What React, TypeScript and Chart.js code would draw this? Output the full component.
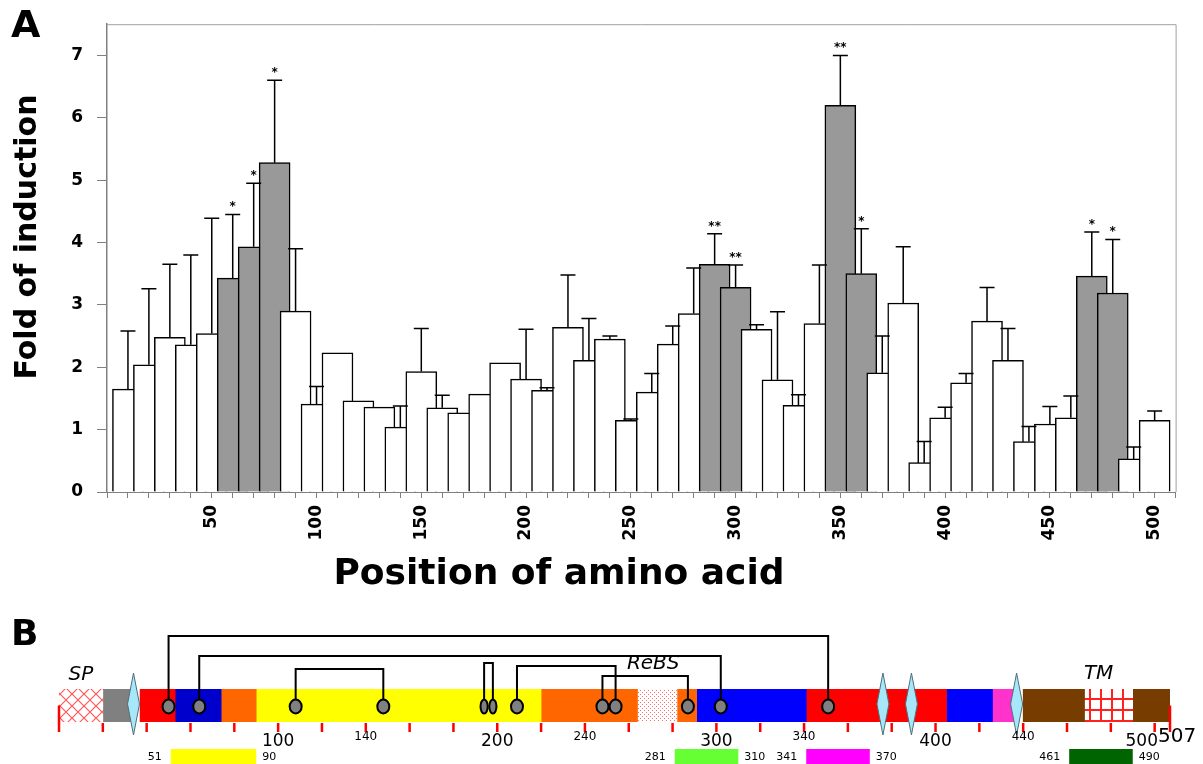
import React, { useEffect, useRef } from 'react';
import { Chart, registerables } from 'chart.js';

Chart.register(...registerables);

// ---------------- Panel A data ----------------
const positions = [10, 20, 30, 40, 50, 60, 70, 80, 90, 100, 110, 120, 130, 140, 150, 160, 170, 180, 190, 200,
  210, 220, 230, 240, 250, 260, 270, 280, 290, 300, 310, 320, 330, 340, 350, 360, 370, 380, 390, 400,
  410, 420, 430, 440, 450, 460, 470, 480, 490, 500];
const foldValues = [1.65, 2.04, 2.48, 2.36, 2.54, 3.43, 3.93, 5.28, 2.90, 1.41, 2.23, 1.46, 1.36, 1.04, 1.93, 1.35, 1.27, 1.57, 2.07, 1.81,
  1.63, 2.64, 2.11, 2.45, 1.15, 1.60, 2.37, 2.86, 3.65, 3.28, 2.61, 1.80, 1.39, 2.70, 6.20, 3.50, 1.91, 3.03, 0.47, 1.19,
  1.75, 2.74, 2.11, 0.81, 1.09, 1.19, 3.46, 3.19, 0.53, 1.15];
const foldErrors = [0.93, 1.22, 1.17, 1.44, 1.85, 1.02, 1.02, 1.32, 1.00, 0.28, 0, 0, 0, 0.34, 0.69, 0.20, 0, 0, 0, 0.80,
  0.04, 0.84, 0.67, 0.05, 0.02, 0.30, 0.29, 0.73, 0.49, 0.36, 0.07, 1.09, 0.17, 0.94, 0.80, 0.72, 0.59, 0.90, 0.34, 0.17,
  0.15, 0.54, 0.51, 0.24, 0.28, 0.35, 0.71, 0.86, 0.19, 0.15];
const significance = ['', '', '', '', '', '*', '*', '*', '', '', '', '', '', '', '', '', '', '', '', '',
  '', '', '', '', '', '', '', '', '**', '**', '', '', '', '', '**', '*', '', '', '', '',
  '', '', '', '', '', '', '*', '*', '', ''];
const xTickLabels = [50, 100, 150, 200, 250, 300, 350, 400, 450, 500];
const yTickLabels = [0, 1, 2, 3, 4, 5, 6, 7];

// ---------------- Panel B data ----------------
const domainStarts = [0, 20, 37, 53, 74, 90, 220, 264, 282, 291, 341, 405, 426, 440, 468, 490];
const domainEnds = [20, 33, 53, 74, 90, 220, 264, 282, 291, 341, 405, 426, 437, 468, 490, 507];
const domainFills = ['cross', '#808080', '#ff0000', '#0000cc', '#ff6600', '#ffff00', '#ff6600', 'dots', '#ff6600',
  '#0000ff', '#ff0000', '#0000ff', '#ff33cc', '#773c00', 'grid', '#773c00'];
const cysteines = [50, 64, 108, 148, 194, 198, 209, 248, 254, 287, 302, 351];
const bondFrom = [50, 64, 108, 194, 209, 248];
const bondTo = [351, 302, 148, 198, 254, 287];
const glycoSites = [34, 376, 389, 437];
const rulerTicks = [0, 20, 40, 60, 80, 100, 120, 140, 160, 180, 200, 220, 240, 260, 280, 300, 320, 340, 360, 380,
  400, 420, 440, 460, 480, 500, 507];
const rulerMajorLabels = [100, 200, 300, 400];
const rulerMinorLabels = [140, 240, 340, 440];
const proteinLength = 507;
const peptideStarts = [51, 281, 341, 461];
const peptideEnds = [90, 310, 370, 490];
const peptideColors = ['#ffff00', '#66ff33', '#ff00ff', '#006400'];

// ---------------- styles ----------------
const FONT = "'DejaVu Sans', Verdana, sans-serif";
const W = 1203;
const HA = 610;
const HB = 154;
const bracketHeights = [53, 33, 20, 26, 23, 13];

function makePattern(kind: string): CanvasPattern | string {
  const c = document.createElement('canvas');
  const g = c.getContext('2d');
  if (!g) return '#ffffff';
  if (kind === 'cross') {
    c.width = 12; c.height = 12;
    g.fillStyle = '#ffffff'; g.fillRect(0, 0, 12, 12);
    g.strokeStyle = '#ff5a5a'; g.lineWidth = 1.2;
    g.beginPath(); g.moveTo(-1, -1); g.lineTo(13, 13); g.moveTo(13, -1); g.lineTo(-1, 13); g.stroke();
  } else if (kind === 'dots') {
    c.width = 4; c.height = 4;
    g.fillStyle = '#ffffff'; g.fillRect(0, 0, 4, 4);
    g.fillStyle = '#ff6a6a'; g.fillRect(0, 0, 1, 1); g.fillRect(2, 2, 1, 1);
  } else if (kind === 'grid') {
    c.width = 11; c.height = 11;
    g.fillStyle = '#ffffff'; g.fillRect(0, 0, 11, 11);
    g.fillStyle = '#ff2020'; g.fillRect(0, 0, 2, 11); g.fillRect(0, 0, 11, 2);
  } else {
    return kind;
  }
  const p = g.createPattern(c, 'repeat');
  return p || '#ffffff';
}

const panelAPlugin = {
  id: 'panelAExtras',
  afterDatasetsDraw(chart: any) {
    const { ctx } = chart;
    const x = chart.scales.x;
    const y = chart.scales.y;
    ctx.save();
    ctx.strokeStyle = '#000';
    ctx.lineWidth = 1.5;
    ctx.fillStyle = '#000';
    positions.forEach((p, i) => {
      const err = foldErrors[i];
      const px = x.getPixelForValue(p);
      const yTop = y.getPixelForValue(foldValues[i] + err);
      if (err > 0) {
        const yBar = y.getPixelForValue(foldValues[i]);
        ctx.beginPath();
        ctx.moveTo(px, yBar);
        ctx.lineTo(px, yTop);
        ctx.moveTo(px - 7.5, yTop);
        ctx.lineTo(px + 7.5, yTop);
        ctx.stroke();
      }
      if (significance[i]) {
        ctx.font = `bold 12px ${FONT}`;
        ctx.textAlign = 'center';
        ctx.textBaseline = 'alphabetic';
        ctx.fillText(significance[i], px, yTop - 4);
      }
    });
    ctx.restore();
  },
  afterDraw(chart: any) {
    const { ctx, chartArea: ca } = chart;
    ctx.save();
    // plot frame (top and right)
    ctx.strokeStyle = '#a0a0a0';
    ctx.lineWidth = 1;
    ctx.beginPath();
    ctx.moveTo(ca.left, ca.top + 0.5);
    ctx.lineTo(ca.right + 0.5, ca.top + 0.5);
    ctx.lineTo(ca.right + 0.5, ca.bottom);
    ctx.stroke();
    // titles
    ctx.fillStyle = '#000';
    ctx.font = `bold 36px ${FONT}`;
    ctx.textAlign = 'center';
    ctx.textBaseline = 'middle';
    ctx.fillText('Position of amino acid', 559, 575);
    ctx.save();
    ctx.translate(28, 237);
    ctx.rotate(-Math.PI / 2);
    ctx.font = `bold 30px ${FONT}`;
    ctx.fillText('Fold of induction', 0, 0);
    ctx.restore();
    ctx.font = `bold 38px ${FONT}`;
    ctx.textAlign = 'left';
    ctx.textBaseline = 'alphabetic';
    ctx.fillText('A', 11, 37);
    ctx.restore();
  },
};

const panelBPlugin = {
  id: 'panelBExtras',
  afterDatasetsDraw(chart: any) {
    const { ctx, chartArea: ca } = chart;
    const x = chart.scales.x;
    const X = (v: number) => x.getPixelForValue(v);
    const top = ca.top;
    const bot = ca.bottom;
    const mid = (top + bot) / 2;
    ctx.save();

    // glycosylation diamonds
    glycoSites.forEach((s) => {
      const cx = X(s);
      const cy = mid - 1.5;
      ctx.beginPath();
      ctx.moveTo(cx, cy - 31);
      ctx.lineTo(cx + 6, cy);
      ctx.lineTo(cx, cy + 31);
      ctx.lineTo(cx - 6, cy);
      ctx.closePath();
      ctx.fillStyle = '#a6e8fa';
      ctx.fill();
      ctx.strokeStyle = '#4f6f78';
      ctx.lineWidth = 1;
      ctx.stroke();
    });

    // disulfide connectors
    const ovalY = mid + 1;
    const ry = 7;
    ctx.strokeStyle = '#000';
    ctx.lineWidth = 2;
    bondFrom.forEach((a, i) => {
      const b = bondTo[i];
      const ly = top - bracketHeights[i];
      ctx.beginPath();
      ctx.moveTo(X(a), ovalY - ry);
      ctx.lineTo(X(a), ly);
      ctx.lineTo(X(b), ly);
      ctx.lineTo(X(b), ovalY - ry);
      ctx.stroke();
    });

    // cysteine ovals
    cysteines.forEach((c) => {
      const close = cysteines.some((o) => o !== c && Math.abs(o - c) < 6);
      const rx = close ? 3.6 : 6;
      ctx.beginPath();
      ctx.ellipse(X(c), ovalY, rx, ry, 0, 0, Math.PI * 2);
      ctx.fillStyle = '#808080';
      ctx.fill();
      ctx.lineWidth = 2;
      ctx.strokeStyle = '#000';
      ctx.stroke();
    });

    // ruler ticks
    ctx.strokeStyle = '#ff0000';
    ctx.lineWidth = 2.5;
    rulerTicks.forEach((t) => {
      const px = X(t);
      const tall = t === 0 || t === proteinLength;
      ctx.beginPath();
      ctx.moveTo(px, tall ? mid : bot + 1);
      ctx.lineTo(px, bot + 10);
      ctx.stroke();
    });

    // ruler labels
    ctx.fillStyle = '#000';
    ctx.textBaseline = 'middle';
    ctx.textAlign = 'center';
    ctx.font = `17px ${FONT}`;
    rulerMajorLabels.forEach((t) => ctx.fillText(String(t), X(t), bot + 20));
    ctx.font = `12px ${FONT}`;
    rulerMinorLabels.forEach((t) => ctx.fillText(String(t), X(t), bot + 15));
    const endX = X(proteinLength) - 12;
    ctx.font = `17px ${FONT}`;
    ctx.textAlign = 'right';
    ctx.fillText('500', endX, bot + 20);
    ctx.font = `20px ${FONT}`;
    ctx.textAlign = 'left';
    ctx.fillText(String(proteinLength), endX, bot + 15);

    // peptide bars
    const pTop = bot + 27;
    peptideStarts.forEach((s, i) => {
      const x0 = X(s);
      const x1 = X(peptideEnds[i]);
      ctx.fillStyle = peptideColors[i];
      ctx.fillRect(x0, pTop, x1 - x0, 16);
      ctx.fillStyle = '#000';
      ctx.font = `11px ${FONT}`;
      ctx.textAlign = 'right';
      ctx.fillText(String(s), x0 - 9, pTop + 8);
      ctx.textAlign = 'left';
      ctx.fillText(String(peptideEnds[i]), x1 + 6, pTop + 8);
    });

    // domain names
    ctx.fillStyle = '#000';
    ctx.font = `italic 20px ${FONT}`;
    ctx.textAlign = 'center';
    ctx.fillText('SP', X((domainStarts[0] + domainEnds[0]) / 2), top - 14);
    ctx.fillText('ReBS', X((domainStarts[7] + domainEnds[7]) / 2) - 4, top - 25);
    ctx.fillText('TM', X((domainStarts[14] + domainEnds[14]) / 2) - 10, top - 15);

    // panel letter
    ctx.font = `bold 36px ${FONT}`;
    ctx.textAlign = 'left';
    ctx.textBaseline = 'alphabetic';
    ctx.fillText('B', 11, 35);
    ctx.restore();
  },
};

export default function App() {
  const refA = useRef<HTMLCanvasElement>(null);
  const refB = useRef<HTMLCanvasElement>(null);

  useEffect(() => {
    if (!refA.current || !refB.current) return;
    const chartA = new Chart(refA.current, {
      type: 'bar',
      data: {
        datasets: [
          {
            data: positions.map((p, i) => ({ x: p, y: foldValues[i] })),
            backgroundColor: positions.map((_, i) => (significance[i] ? '#999999' : '#ffffff')),
            borderColor: '#000000',
            borderWidth: 1.5,
            borderSkipped: 'start',
            barThickness: 31,
          } as any,
        ],
      },
      options: {
        animation: false,
        responsive: false,
        events: [],
        layout: { padding: { left: 0, right: 26, top: 19, bottom: 0 } },
        plugins: { legend: { display: false }, tooltip: { enabled: false } },
        scales: {
          x: {
            type: 'linear',
            min: 0,
            max: 510,
            offset: false,
            afterFit: (s: any) => { s.height = HA - 492; },
            grid: { offset: false, drawOnChartArea: false, drawTicks: true, tickLength: 6, color: '#808080' },
            border: { display: true, color: '#808080', width: 1 },
            ticks: {
              stepSize: 10,
              autoSkip: false,
              minRotation: 90,
              maxRotation: 90,
              padding: 7,
              color: '#000',
              font: { family: FONT, size: 17, weight: 'bold' },
              callback: (v: any) => (xTickLabels.includes(Number(v)) ? String(v) : ''),
            },
          } as any,
          y: {
            min: 0,
            max: 7.5,
            afterFit: (s: any) => { s.width = 107; },
            grid: { drawOnChartArea: false, drawTicks: true, tickLength: 10, color: '#808080' },
            border: { display: true, color: '#808080', width: 1.5 },
            ticks: {
              stepSize: 1,
              includeBounds: false,
              padding: 14,
              color: '#000',
              font: { family: FONT, size: 17, weight: 'bold' },
              callback: (v: any) => (yTickLabels.includes(Number(v)) ? String(v) : ''),
            },
          } as any,
        },
      },
      plugins: [panelAPlugin],
    });

    const chartB = new Chart(refB.current, {
      type: 'bar',
      data: {
        labels: ['protein'],
        datasets: domainStarts.map((s, i) => ({
          data: [[s, domainEnds[i]]],
          backgroundColor: makePattern(domainFills[i]),
          borderWidth: 0,
          barPercentage: 1,
          categoryPercentage: 1,
          grouped: false,
        })) as any,
      },
      options: {
        indexAxis: 'y',
        animation: false,
        responsive: false,
        events: [],
        layout: { padding: { left: 59, right: W - 1170, top: 79, bottom: HB - 112 } },
        plugins: { legend: { display: false }, tooltip: { enabled: false } },
        scales: {
          x: { type: 'linear', min: 0, max: proteinLength, display: false },
          y: { display: false },
        },
      },
      plugins: [panelBPlugin],
    });

    return () => {
      chartA.destroy();
      chartB.destroy();
    };
  }, []);

  return (
    <div style={{ position: 'fixed', left: 0, top: 0, width: W, height: HA + HB, background: '#ffffff' }}>
      <canvas ref={refA} width={W} height={HA} style={{ position: 'absolute', left: 0, top: 0, display: 'block' }} />
      <canvas ref={refB} width={W} height={HB} style={{ position: 'absolute', left: 0, top: HA, display: 'block' }} />
    </div>
  );
}
